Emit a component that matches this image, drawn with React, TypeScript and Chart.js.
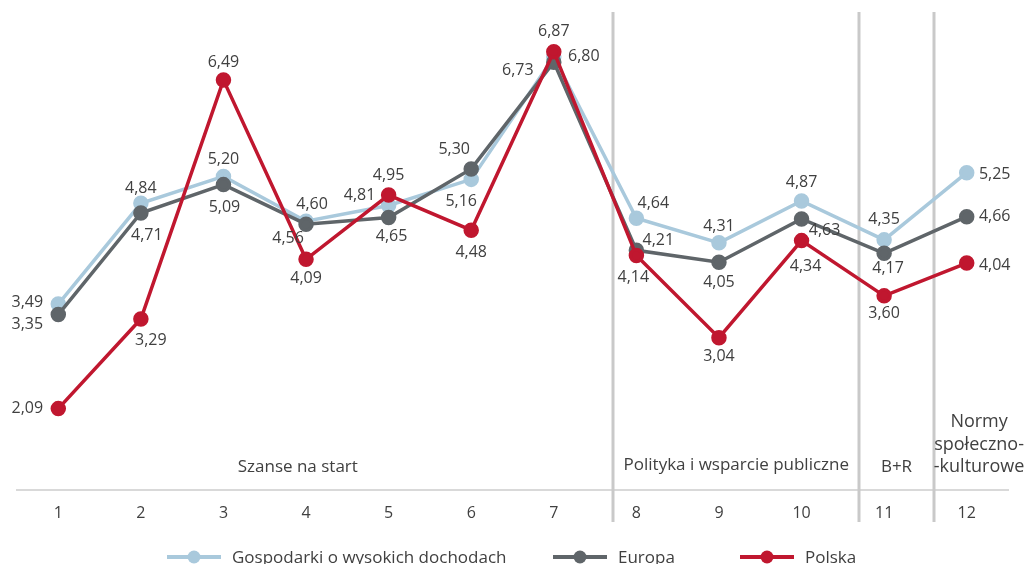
import React, { useEffect, useRef } from "react";
import { Chart, registerables } from "chart.js";

Chart.register(...registerables);

const categories = ["1", "2", "3", "4", "5", "6", "7", "8", "9", "10", "11", "12"];
const seriesNames = ["Gospodarki o wysokich dochodach", "Europa", "Polska"];
const highIncome = [3.49, 4.84, 5.2, 4.6, 4.81, 5.16, 6.8, 4.64, 4.31, 4.87, 4.35, 5.25];
const europe = [3.35, 4.71, 5.09, 4.56, 4.65, 5.3, 6.73, 4.21, 4.05, 4.63, 4.17, 4.66];
const poland = [2.09, 3.29, 6.49, 4.09, 4.95, 4.48, 6.87, 4.14, 3.04, 4.34, 3.6, 4.04];

const sectionNames = ["Szanse na start", "Polityka i wsparcie publiczne", "B+R", "Normy\nspołeczno-\n-kulturowe"];

// label placement (offset of label centre from its point), kept apart from the data
const highIncomeLabelOffsets = [[-31, -2], [0, -15], [0, -17], [6, -17], [-29, -10], [-10, 22], [30, 0], [17, -15], [0, -16], [0, -19], [0, -20], [28, 2]];
const europeLabelOffsets = [[-31, 10], [6, 22], [1, 23], [-18, 14], [3, 19], [-17, -19], [-36, 8], [22, -10], [0, 20], [23, 11], [4, 15], [28, 0]];
const polandLabelOffsets = [[-31, 0], [10, 21], [0, -18], [0, 19], [0, -20], [0, 22], [0, -20], [-3, 22], [0, 19], [4, 26], [0, 18], [28, 2]];

const FONT = "'Open Sans', 'DejaVu Sans', sans-serif";
const TEXT = "#404040";
const COLORS = ["#a9c9dc", "#5f6569", "#c0172f"];

const fmt = (v: number) => v.toFixed(2).replace(".", ",");

const decorPlugin = {
  id: "decor",
  beforeDatasetsDraw(chart: any) {
    const { ctx } = chart;
    const x = chart.scales.x;
    const seps = [6.713, 9.694, 10.601];
    ctx.save();
    ctx.strokeStyle = "#c9c9c9";
    ctx.lineWidth = 3;
    seps.forEach((s) => {
      const px = Math.round(x.getPixelForValue(s));
      ctx.beginPath();
      ctx.moveTo(px, 12);
      ctx.lineTo(px, 522);
      ctx.stroke();
    });
    // section labels
    ctx.fillStyle = TEXT;
    ctx.textAlign = "center";
    ctx.textBaseline = "middle";
    const secPos = [
      [2.9, 467, 17],
      [8.21, 465, 17],
      [10.15, 467, 17],
      [11.15, 422, 18],
    ];
    sectionNames.forEach((name, i) => {
      const lines = name.split("\n");
      const cx = x.getPixelForValue(secPos[i][0]);
      ctx.font = `${secPos[i][2]}px ${FONT}`;
      lines.forEach((ln, j) => ctx.fillText(ln, cx, secPos[i][1] + j * 22.5));
    });
    ctx.restore();
  },
  afterDatasetsDraw(chart: any) {
    const { ctx } = chart;
    const offsets = [highIncomeLabelOffsets, europeLabelOffsets, polandLabelOffsets];
    ctx.save();
    ctx.fillStyle = TEXT;
    ctx.font = `16px ${FONT}`;
    ctx.textAlign = "center";
    ctx.textBaseline = "middle";
    chart.data.datasets.forEach((ds: any, di: number) => {
      const meta = chart.getDatasetMeta(di);
      meta.data.forEach((pt: any, i: number) => {
        const o = offsets[di][i];
        ctx.fillText(fmt(ds.data[i]), pt.x + o[0], pt.y + o[1]);
      });
    });
    ctx.restore();
  },
  afterDraw(chart: any) {
    const { ctx } = chart;
    const starts = [167, 553, 740];
    const y = 557;
    ctx.save();
    chart.data.datasets.forEach((ds: any, i: number) => {
      const sx = starts[i];
      ctx.strokeStyle = ds.borderColor;
      ctx.lineWidth = 4;
      ctx.beginPath();
      ctx.moveTo(sx, y);
      ctx.lineTo(sx + 54, y);
      ctx.stroke();
      ctx.fillStyle = ds.borderColor;
      ctx.beginPath();
      ctx.arc(sx + 27, y, 6.5, 0, Math.PI * 2);
      ctx.fill();
      ctx.fillStyle = TEXT;
      ctx.font = `17px ${FONT}`;
      ctx.textAlign = "left";
      ctx.textBaseline = "middle";
      ctx.fillText(ds.label, sx + 65, y + 1);
    });
    ctx.restore();
  },
};

export default function App() {
  const ref = useRef<HTMLCanvasElement | null>(null);
  useEffect(() => {
    if (!ref.current) return;
    const mk = (label: string, data: number[], color: string, order: number) => ({
      label,
      data,
      borderColor: color,
      backgroundColor: color,
      pointBackgroundColor: color,
      pointBorderColor: color,
      borderWidth: 3.5,
      pointRadius: 6,
      pointHoverRadius: 6,
      tension: 0,
      order,
    });
    const chart = new Chart(ref.current, {
      type: "line",
      data: {
        labels: categories,
        datasets: [
          mk(seriesNames[0], highIncome, COLORS[0], 2),
          mk(seriesNames[1], europe, COLORS[1], 1),
          mk(seriesNames[2], poland, COLORS[2], 0),
        ],
      },
      options: {
        responsive: false,
        animation: false,
        devicePixelRatio: 1,
        layout: { padding: { top: 42, left: 17, right: 21, bottom: 0 } },
        plugins: { legend: { display: false }, tooltip: { enabled: false } },
        scales: {
          x: {
            offset: true,
            grid: { display: false, drawTicks: false },
            border: { display: true, color: "#d9d9d9", width: 2 },
            ticks: { color: TEXT, font: { family: FONT, size: 16 }, padding: 14 },
            afterFit: (s: any) => {
              s.height = 74;
            },
          },
          y: { display: false, min: 1, max: 7 },
        },
      },
      plugins: [decorPlugin],
    } as any);
    return () => chart.destroy();
  }, []);
  return (
    <div style={{ position: "fixed", left: 0, top: 0, width: 1029, height: 564, background: "#fff" }}>
      <canvas ref={ref} width={1029} height={564} />
    </div>
  );
}
